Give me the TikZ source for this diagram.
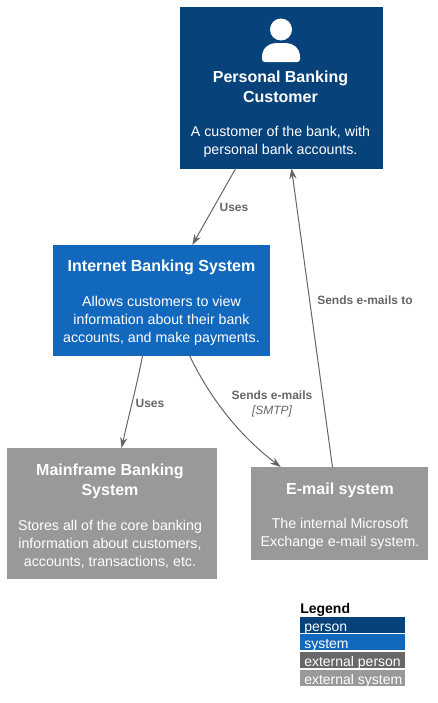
\documentclass[tikz,border=0pt]{standalone}
\usepackage{fontspec}
\setmainfont{Liberation Sans}
\usetikzlibrary{calc,arrows.meta}
\definecolor{cperson}{HTML}{08427B}
\definecolor{csystem}{HTML}{1168BD}
\definecolor{cextperson}{HTML}{686868}
\definecolor{cextsystem}{HTML}{999999}
\definecolor{crel}{HTML}{666666}
\tikzset{
  x=0.75pt,y=-0.75pt,
  box/.style={draw=#1,fill=#1,line width=0.75pt,anchor=north west,inner sep=0pt,outer sep=0pt},
  title/.style={text=white,font=\bfseries\fontsize{12}{15}\selectfont,align=center,inner sep=0pt},
  body/.style={text=white,font=\fontsize{10.65}{13.5}\selectfont,align=center,inner sep=0pt},
  rel/.style={draw=crel,line width=0.75pt,-{Stealth[length=8pt,width=5.5pt]}},
  rellabel/.style={text=crel,font=\bfseries\fontsize{9}{12}\selectfont,inner sep=0pt},
  relnote/.style={text=crel,font=\itshape\fontsize{9}{12}\selectfont,inner sep=0pt},
  legrow/.style={fill=#1,anchor=north west,inner sep=0pt,outer sep=0pt,minimum width=78.75pt,minimum height=12pt},
  legtext/.style={text=white,font=\fontsize{10.5}{12}\selectfont,anchor=base west,inner sep=0pt},
}
\begin{document}
\begin{tikzpicture}
\path[use as bounding box,fill=white] (0,0) rectangle (437,703);
% boxes
\node[box=cperson,minimum width=151.5pt,minimum height=121pt] (person) at (180,7) {};
\node[box=csystem,minimum width=162pt,minimum height=82.5pt] (internet) at (53,245) {};
\node[box=cextsystem,minimum width=156.75pt,minimum height=97.5pt] (mainframe) at (7,448) {};
\node[box=cextsystem,minimum width=132pt,minimum height=69pt] (email) at (251,467) {};
% person icon
\fill[white] (281,29.5) circle (11);
\fill[white] (262,59) -- (262,57) .. controls (262,48) and (269,43) .. (276,43)
  -- (286,43) .. controls (293,43) and (300,48) .. (300,57) -- (300,59)
  .. controls (300,61) and (299,62) .. (297,62) -- (265,62) .. controls (263,62) and (262,61) .. (262,59) -- cycle;
% texts
\node[title] (persontitle) at (280.5,87) {Personal Banking\\Customer};
\node[body] (persondesc) at (280.5,142) {A customer of the bank, with\\ personal bank accounts.};
\node[title] (internettitle) at (161.5,267) {Internet Banking System};
\node[body] (internetdesc) at (161.5,320.5) {Allows customers to view\\information about their bank\\accounts, and make payments.};
\node[title] (mainframetitle) at (110,481) {Mainframe Banking\\System};
\node[body] (mainframedesc) at (110,544) {Stores all of the core banking\\information about customers,\\accounts, transactions, etc.};
\node[title] (emailtitle) at (340,490) {E-mail system};
\node[body] (emaildesc) at (340,534) {The internal Microsoft\\Exchange e-mail system.};
% connectors
\draw[rel] ($(person.south west)!0.276!(person.south east)$) -- ($(internet.north west)!0.645!(internet.north east)$);
\draw[rel] ($(internet.south west)!0.415!(internet.south east)$) .. controls (137,385) and (130,410) .. ($(mainframe.north west)!0.548!(mainframe.north east)$);
\draw[rel] ($(internet.south west)!0.631!(internet.south east)$) .. controls (205,388) and (232,430) .. ($(email.north west)!0.169!(email.north east)$);
\draw[rel] ($(email.north west)!0.463!(email.north east)$) -- ($(person.south west)!0.552!(person.south east)$);
% relation labels
\node[rellabel] (uses1) at (234,207) {Uses};
\node[rellabel] (sendsto) at (365,300.5) {Sends e-mails to};
\node[rellabel] (uses2) at (150,403) {Uses};
\node[rellabel] (sends) at (272,395) {Sends e-mails};
\node[relnote] (smtp) at (272,411) {[SMTP]};
% legend
\node[anchor=base west,inner sep=0pt,font=\bfseries\fontsize{10.5}{12}\selectfont] (legend) at (300,613) {Legend};
\node[legrow=cperson] (l1) at (300,617) {};
\node[legrow=csystem] (l2) at (300,634) {};
\node[legrow=cextperson] (l3) at (300,652) {};
\node[legrow=cextsystem] (l4) at (300,670) {};
\node[legtext] (t1) at (304,631) {person};
\node[legtext] (t2) at (304,648) {system};
\node[legtext] (t3) at (304,666) {external person};
\node[legtext] (t4) at (304,684) {external system};
\end{tikzpicture}
\end{document}
